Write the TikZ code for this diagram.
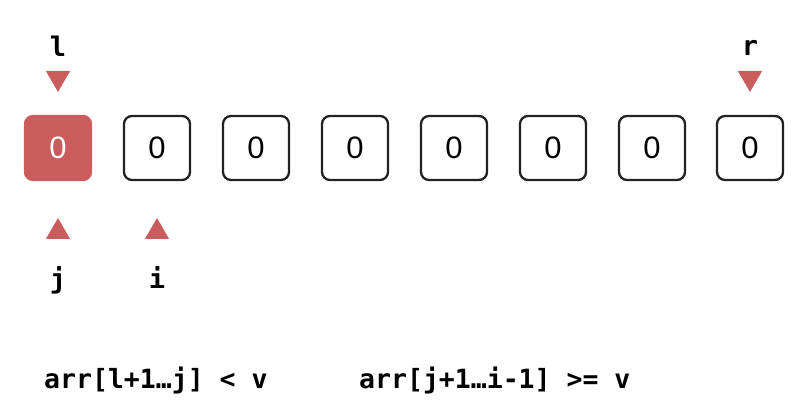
\documentclass[tikz,border=0pt]{standalone}
\usepackage{fontspec}
\setmainfont{Liberation Sans}
\newfontfamily\monofam{DejaVu Sans Mono}
\usetikzlibrary{shapes.geometric}
\definecolor{accent}{HTML}{C95D5E}
\definecolor{boxline}{HTML}{222222}
\tikzset{
  cell/.style={draw=boxline, line width=2.3pt, rounded corners=8pt, minimum width=66pt, minimum height=64pt, inner sep=0pt, font=\fontsize{31}{34}\selectfont, text=black},
  activecell/.style={cell, draw=accent, fill=accent, text=white},
  ptrdown/.style={regular polygon, regular polygon sides=3, minimum size=28pt, inner sep=0pt, fill=accent, rotate=180},
  ptrup/.style={regular polygon, regular polygon sides=3, minimum size=28pt, inner sep=0pt, fill=accent},
  lbl/.style={font=\monofam\bfseries\fontsize{27}{30}\selectfont, inner sep=0pt},
  note/.style={font=\monofam\bfseries\fontsize{26.5}{29}\selectfont, inner sep=0pt, anchor=base west}
}
\begin{document}
\begin{tikzpicture}[x=1pt,y=-1pt]
\useasboundingbox (0,0) rectangle (807,414);
\node[activecell] (c0) at (58,148) {0};
\node[cell] (c1) at (157,148) {0};
\node[cell] (c2) at (256,148) {0};
\node[cell] (c3) at (355,148) {0};
\node[cell] (c4) at (454,148) {0};
\node[cell] (c5) at (553,148) {0};
\node[cell] (c6) at (652,148) {0};
\node[cell] (c7) at (750,148) {0};
\node[ptrdown] (tl) at (58,78) {};
\node[ptrdown] (tr) at (750,78) {};
\node[ptrup] (tj) at (58,232) {};
\node[ptrup] (ti) at (157,232) {};
\node[lbl] (ll) at (58,46) {l};
\node[lbl] (lr) at (750,48) {r};
\node[lbl] (lj) at (58,280) {j};
\node[lbl] (li) at (157,278) {i};
\node[note] (n1) at (44,389) {arr[l+1…j] < v};
\node[note] (n2) at (359,389) {arr[j+1…i-1] >= v};
\end{tikzpicture}
\end{document}
